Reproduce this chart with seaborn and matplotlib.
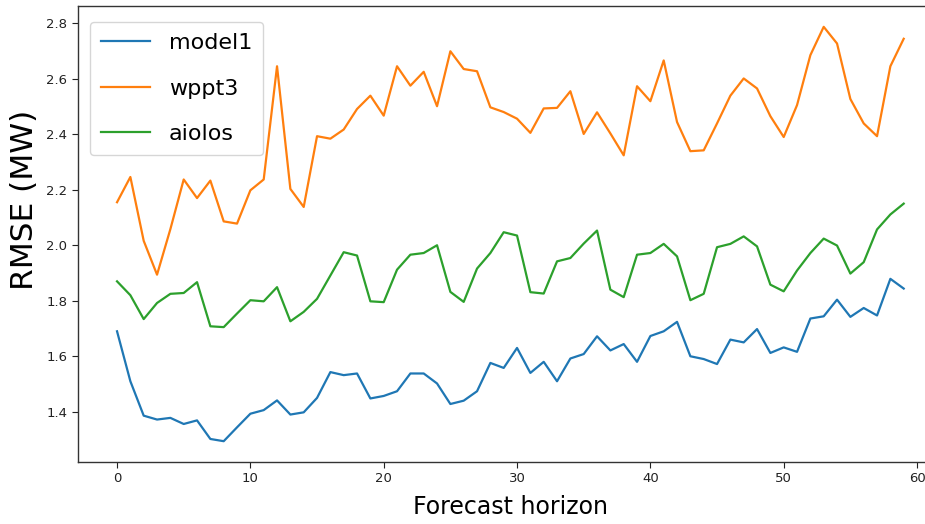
import numpy as np
import pandas as pd
import matplotlib
matplotlib.use("Agg")
import matplotlib.pyplot as plt
import seaborn as sns

# Forecast horizon steps
horizon = list(range(60))

# RMSE (MW) per horizon for each forecasting model
model1 = [1.690, 1.510, 1.386, 1.372, 1.378, 1.356, 1.369, 1.302, 1.294, 1.344,
          1.393, 1.406, 1.441, 1.390, 1.398, 1.450, 1.543, 1.532, 1.538, 1.448,
          1.457, 1.474, 1.538, 1.538, 1.502, 1.428, 1.440, 1.474, 1.576, 1.558,
          1.630, 1.540, 1.580, 1.510, 1.592, 1.608, 1.672, 1.621, 1.644, 1.580,
          1.673, 1.690, 1.724, 1.600, 1.590, 1.572, 1.660, 1.650, 1.698, 1.612,
          1.632, 1.616, 1.736, 1.744, 1.804, 1.742, 1.774, 1.747, 1.879, 1.844]

wppt3 = [2.155, 2.246, 2.016, 1.894, 2.058, 2.237, 2.170, 2.233, 2.086, 2.078,
         2.198, 2.237, 2.645, 2.203, 2.138, 2.393, 2.384, 2.417, 2.491, 2.539,
         2.467, 2.645, 2.575, 2.625, 2.501, 2.699, 2.635, 2.627, 2.497, 2.480,
         2.456, 2.405, 2.493, 2.495, 2.555, 2.401, 2.479, 2.403, 2.324, 2.573,
         2.519, 2.666, 2.444, 2.339, 2.342, 2.439, 2.539, 2.601, 2.565, 2.465,
         2.390, 2.505, 2.685, 2.787, 2.727, 2.527, 2.439, 2.393, 2.645, 2.744]

aiolos = [1.870, 1.820, 1.734, 1.792, 1.825, 1.828, 1.867, 1.708, 1.705, 1.754,
          1.802, 1.798, 1.849, 1.726, 1.760, 1.807, 1.891, 1.975, 1.963, 1.798,
          1.795, 1.912, 1.966, 1.972, 2.000, 1.832, 1.796, 1.916, 1.972, 2.047,
          2.035, 1.831, 1.826, 1.942, 1.954, 2.006, 2.053, 1.840, 1.813, 1.966,
          1.972, 2.005, 1.960, 1.802, 1.825, 1.993, 2.005, 2.032, 1.996, 1.858,
          1.834, 1.909, 1.972, 2.024, 1.999, 1.898, 1.939, 2.057, 2.111, 2.150]

series_names = ["model1", "wppt3", "aiolos"]
y_ticks = [1.4, 1.6, 1.8, 2.0, 2.2, 2.4, 2.6, 2.8]
x_ticks = [0, 10, 20, 30, 40, 50, 60]

df = pd.DataFrame({
    "horizon": horizon * 3,
    "rmse": model1 + wppt3 + aiolos,
    "model": sum([[n] * len(horizon) for n in series_names], []),
})

plt.rcParams["font.family"] = ["DejaVu Sans"]

fig = plt.figure(figsize=(9.25, 5.24), dpi=100)
ax = fig.add_axes([0.084, 0.1183, 0.9355, 0.8702])

sns.lineplot(data=df, x="horizon", y="rmse", hue="model",
             hue_order=series_names,
             palette=["#1f77b4", "#ff7f0e", "#2ca02c"],
             linewidth=1.6, ax=ax)

ax.set_xlim(-2.95, 61.95)
ax.set_ylim(1.219, 2.862)
ax.set_xticks(x_ticks)
ax.set_yticks(y_ticks)
ax.set_yticklabels([f"{v:.1f}" for v in y_ticks])
ax.tick_params(axis="both", labelsize=9.5, colors="#222222", length=4)
for sp in ax.spines.values():
    sp.set_color("#333333")
    sp.set_linewidth(1.0)

ax.set_xlabel("Forecast horizon", fontsize=17, labelpad=7)
ax.set_ylabel("RMSE (MW)", fontsize=22.5)
ax.yaxis.set_label_coords(-0.045, 0.575)

handles, labels = ax.get_legend_handles_labels()
ax.legend(handles, labels, loc="upper left", bbox_to_anchor=(0.0142, 0.965),
          fontsize=16, labelspacing=1.15, handlelength=2.2,
          handletextpad=0.85, borderaxespad=0.0, borderpad=0.5,
          frameon=True, fancybox=True)

fig.savefig("out.png", dpi=100)
